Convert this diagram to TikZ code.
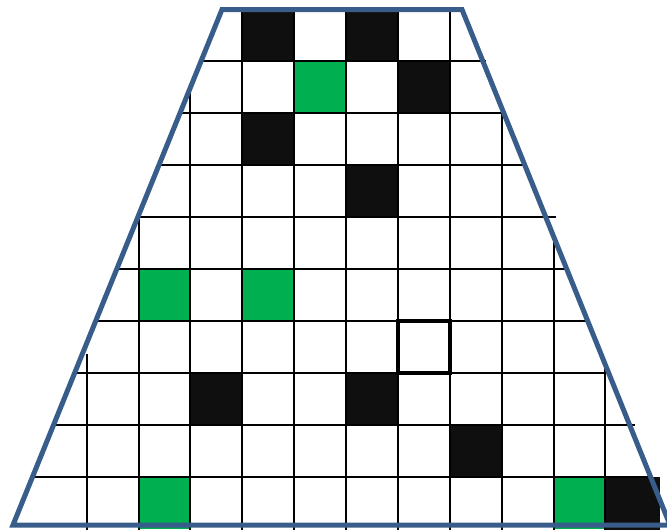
\documentclass[tikz,border=0pt]{standalone}
\definecolor{trapblue}{HTML}{385D8A}
\definecolor{cellgreen}{HTML}{00B050}
\definecolor{cellblack}{HTML}{0F0F0F}
\begin{document}
\begin{tikzpicture}[x=1pt,y=-1pt,
  gridline/.style={line width=2pt,black},
  blackcell/.style={fill=cellblack},
  greencell/.style={fill=cellgreen},
  thickcell/.style={draw=black,line width=3.5pt},
  trapline/.style={draw=trapblue,line width=5pt,line join=miter}]
\useasboundingbox (0,0) rectangle (667,530);
\def\cw{51.88}
\def\ch{52.04}
\def\xo{34.8}
\def\yo{8.66}
% trapezoid corners
\coordinate (TL) at (222,9.5);
\coordinate (TR) at (462,9.5);
\coordinate (BR) at (670,525);
\coordinate (BL) at (13,525);
% coloured cells
\foreach \k/\j in {4/0,6/0,7/1,4/2,6/3,3/7,6/7,8/8}
  \fill[blackcell] ({\xo+\cw*\k},{\yo+\ch*\j}) rectangle ++(\cw,\ch);
\fill[blackcell] ({\xo+\cw*11},{\yo+\ch*9}) rectangle (659.7,535);
\foreach \k/\j in {5/1,2/5,4/5,2/9,10/9}
  \fill[greencell] ({\xo+\cw*\k},{\yo+\ch*\j}) rectangle ++(\cw,\ch);
% grid lines clipped to the trapezoid
\begin{scope}
  \clip (TL) -- (TR) -- (674.3,535) -- (8.9,535) -- cycle;
  \foreach \j in {1,...,9}
    \draw[gridline] (0,{\yo+\ch*\j}) -- (667,{\yo+\ch*\j});
  \foreach \k in {2,...,11}
    \draw[gridline] ({\xo+\cw*\k},0) -- ({\xo+\cw*\k},535);
  \draw[gridline] ({\xo+\cw},354) -- ({\xo+\cw},535);
\end{scope}
% small stubs beyond the outline
\draw[gridline] (540,{\yo+\ch*4}) -- (556,{\yo+\ch*4});
\draw[gridline] (620,{\yo+\ch*8}) -- (635,{\yo+\ch*8});
\draw[gridline] (470,{\yo+\ch*1}) -- (486,{\yo+\ch*1});
% emphasised cell
\draw[thickcell] ({\xo+\cw*7},{\yo+\ch*6}) rectangle ++(\cw,\ch);
% outline
\draw[trapline] (TL) -- (TR) -- (BR) -- (BL) -- cycle;
\end{tikzpicture}
\end{document}
